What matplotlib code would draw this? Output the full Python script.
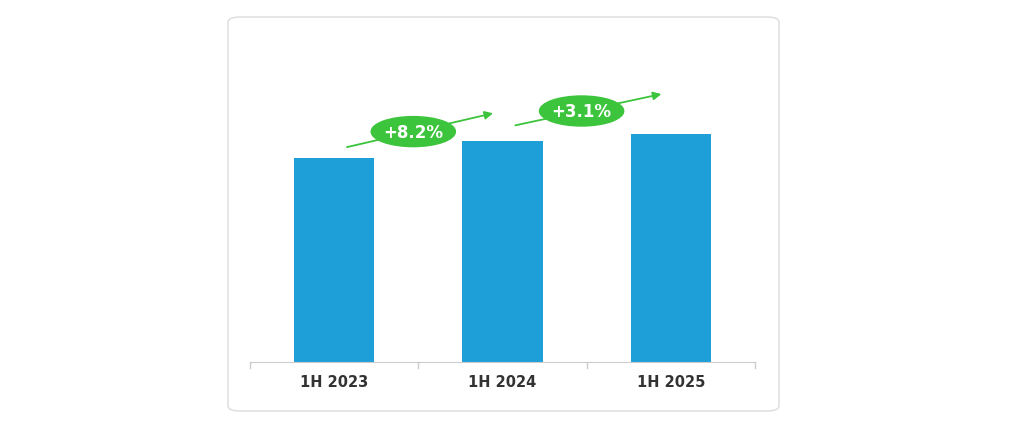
import matplotlib
matplotlib.use("Agg")
import matplotlib.pyplot as plt
from matplotlib.patches import FancyBboxPatch, Ellipse

categories = ["1H 2023", "1H 2024", "1H 2025"]
values = [100.0, 108.2, 111.6]
growth_labels = ["+8.2%", "+3.1%"]

fig = plt.figure(figsize=(10.24, 4.27), dpi=100)
fig.patch.set_facecolor("white")
card = FancyBboxPatch((228/1024, (427-412)/427), 551/1024, 394/427,
                      boxstyle="round,pad=0,rounding_size=0.012",
                      transform=fig.transFigure, facecolor="white",
                      edgecolor="#dcdcdc", linewidth=1.0, zorder=-10)
fig.patches.append(card)

ax = fig.add_axes([250/1024, (427-363)/427, 505/1024, 333/427])
ax.set_zorder(5)
ax.set_facecolor("none")
x = list(range(len(categories)))
ax.bar(x, values, width=80/168, color="#1e9fd8", zorder=2)
ax.set_xlim(-0.5, 2.5)
ax.set_ylim(0, 163.2)
for s in ["top", "right", "left"]:
    ax.spines[s].set_visible(False)
ax.spines["bottom"].set_color("#cccccc")
ax.set_yticks([])
ax.set_xticks(x)
ax.set_xticklabels(categories, fontweight="bold", fontsize=10.5, color="#333333")
ax.tick_params(axis="x", length=0, pad=9)
for b in [-0.5, 0.5, 1.5, 2.5]:
    ax.plot([b, b], [0, -3], color="#cccccc", lw=1, clip_on=False)

green = "#3cc43c"
for i, lab in enumerate(growth_labels):
    x0, x1 = i + 0.06, i + 0.96
    y0, y1 = values[i] + 5, values[i + 1] + 14 + (6 if i == 1 else 0)
    if i == 1:
        y0 = values[i] + 7.5
    ax.annotate("", xy=(x1, y1), xytext=(x0, y0),
                arrowprops=dict(arrowstyle="-|>", color=green, lw=1.3,
                                mutation_scale=12), zorder=3)
    cx = i + 0.47
    cy = y0 + (y1 - y0) * 0.46
    ax.add_patch(Ellipse((cx, cy), 84/168, 30/204*100, color=green, zorder=4))
    ax.text(cx, cy, lab, ha="center", va="center", color="white",
            fontweight="bold", fontsize=12, zorder=5)

fig.savefig("out.png", dpi=100)
